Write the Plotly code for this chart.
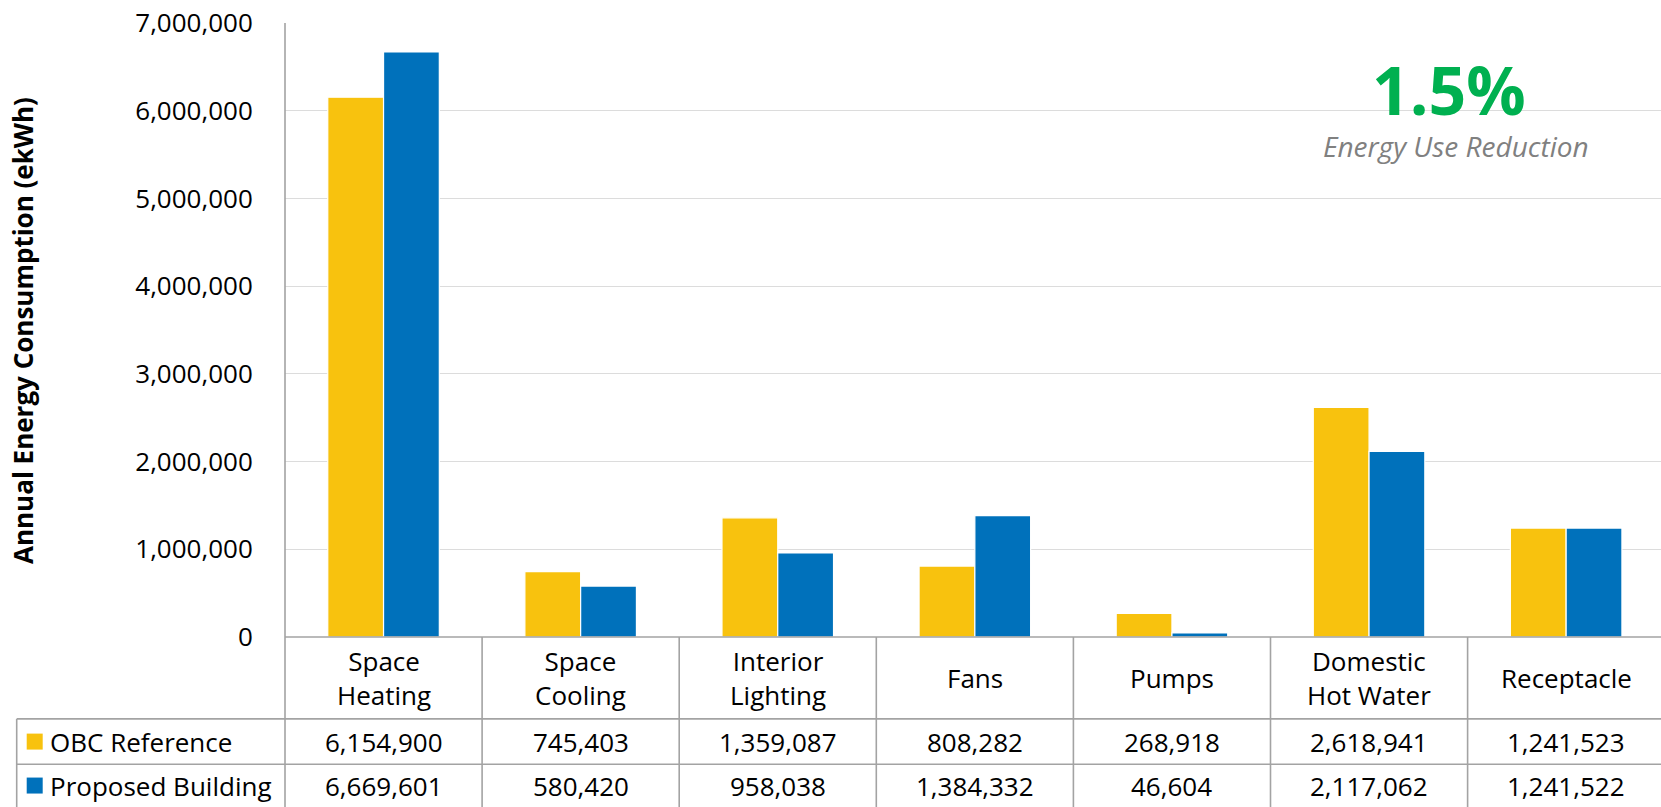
import plotly.graph_objects as go

categories = ["Space Heating", "Space Cooling", "Interior Lighting", "Fans", "Pumps", "Domestic Hot Water", "Receptacle"]
category_labels = ["Space<br>Heating", "Space<br>Cooling", "Interior<br>Lighting", "Fans", "Pumps", "Domestic<br>Hot Water", "Receptacle"]
obc_reference = [6154900, 745403, 1359087, 808282, 268918, 2618941, 1241523]
proposed_building = [6669601, 580420, 958038, 1384332, 46604, 2117062, 1241522]
series_names = ["OBC Reference", "Proposed Building"]
y_ticks = [0, 1000000, 2000000, 3000000, 4000000, 5000000, 6000000, 7000000]
reduction_text = "1.5%"
reduction_label = "Energy Use Reduction"
y_title = "Annual Energy Consumption (ekWh)"

YELLOW = "#F8C20E"
BLUE = "#0071BB"
LINE = "#A3A3A3"
GRID = "#DCDCDC"
FONT = "Open Sans"

W, H = 1661, 807
L, R_EDGE, T, B = 285, 1661, 22.7, 637.3
PW, PH = R_EDGE - L, B - T
COLW = 197.1
x_range_max = -0.5 + PW / COLW


def px_x(px):
    return (px - L) / PW


def px_y(py):
    return (B - py) / PH


fig = go.Figure()
fig.add_trace(go.Bar(x=categories, y=obc_reference, name=series_names[0],
                     marker=dict(color=YELLOW, line=dict(color="white", width=1.2))))
fig.add_trace(go.Bar(x=categories, y=proposed_building, name=series_names[1],
                     marker=dict(color=BLUE, line=dict(color="white", width=1.2))))

fig.update_layout(
    width=W, height=H,
    margin=dict(l=L, r=W - R_EDGE, t=T, b=H - B, pad=0),
    paper_bgcolor="white", plot_bgcolor="white",
    barmode="group", bargap=0.434, bargroupgap=0,
    showlegend=False,
    font=dict(family=FONT, size=26, color="#000000"),
    xaxis=dict(range=[-0.5, x_range_max], showticklabels=False, showgrid=False,
               zeroline=False, showline=False, ticks=""),
    yaxis=dict(range=[0, 7000000], tickvals=y_ticks, tickformat=",d",
               showgrid=True, gridcolor=GRID, gridwidth=1.3, zeroline=False,
               showline=False, ticks="outside", ticklen=26, tickcolor="rgba(0,0,0,0)",
               tickfont=dict(family=FONT, size=26, color="#000000")),
)

shapes = []
# y axis line extending through the table
shapes.append(dict(type="line", xref="paper", yref="paper", x0=0, x1=0, y0=1, y1=px_y(H + 2),
                   line=dict(color=LINE, width=1.6)))
# x axis line / table top
shapes.append(dict(type="line", xref="paper", yref="paper", x0=0, x1=1, y0=0, y1=0,
                   line=dict(color=LINE, width=1.6)))
# row separators
for py in (719.3, 764.7):
    shapes.append(dict(type="line", xref="paper", yref="paper", x0=px_x(16.7), x1=1,
                       y0=px_y(py), y1=px_y(py), line=dict(color=LINE, width=1.6)))
# left border of legend column
shapes.append(dict(type="line", xref="paper", yref="paper", x0=px_x(16.7), x1=px_x(16.7),
                   y0=px_y(719.3), y1=px_y(H + 2), line=dict(color=LINE, width=1.6)))
# column separators
for i in range(len(categories)):
    shapes.append(dict(type="line", xref="x", yref="paper", x0=i + 0.5, x1=i + 0.5,
                       y0=0, y1=px_y(H + 2), line=dict(color=LINE, width=1.6)))
# legend squares
for py_c, col in ((742, YELLOW), (786, BLUE)):
    shapes.append(dict(type="rect", xref="paper", yref="paper", x0=px_x(26.7), x1=px_x(42.7),
                       y0=px_y(py_c + 8), y1=px_y(py_c - 8), fillcolor=col, line=dict(width=0)))

annotations = []
for cat, lab in zip(categories, category_labels):
    annotations.append(dict(x=cat, xref="x", y=px_y(678), yref="paper", text=lab,
                            showarrow=False, xanchor="center", yanchor="middle",
                            font=dict(family=FONT, size=26, color="#000000")))
for cat, v1, v2 in zip(categories, obc_reference, proposed_building):
    annotations.append(dict(x=cat, xref="x", y=px_y(742), yref="paper", text=f"{v1:,}",
                            showarrow=False, xanchor="center", yanchor="middle",
                            font=dict(family=FONT, size=26, color="#000000")))
    annotations.append(dict(x=cat, xref="x", y=px_y(786), yref="paper", text=f"{v2:,}",
                            showarrow=False, xanchor="center", yanchor="middle",
                            font=dict(family=FONT, size=26, color="#000000")))
for name, py_c in zip(series_names, (742, 786)):
    annotations.append(dict(x=px_x(48), xref="paper", y=px_y(py_c), yref="paper", text=name,
                            showarrow=False, xanchor="left", yanchor="middle",
                            font=dict(family=FONT, size=26, color="#000000")))
annotations.append(dict(x=px_x(23), xref="paper", y=px_y(331), yref="paper", text=f"<b>{y_title}</b>",
                        textangle=-90, showarrow=False, xanchor="center", yanchor="middle",
                        font=dict(family=FONT, size=26, color="#000000")))
annotations.append(dict(x=px_x(1449), xref="paper", y=px_y(89), yref="paper", text=f"<b>{reduction_text}</b>",
                        showarrow=False, xanchor="center", yanchor="middle",
                        font=dict(family=FONT, size=66, color="#00B050")))
annotations.append(dict(x=px_x(1456), xref="paper", y=px_y(146), yref="paper", text=f"<i>{reduction_label}</i>",
                        showarrow=False, xanchor="center", yanchor="middle",
                        font=dict(family=FONT, size=28, color="#808080")))

fig.update_layout(shapes=shapes, annotations=annotations)
fig.write_html("out.html")
